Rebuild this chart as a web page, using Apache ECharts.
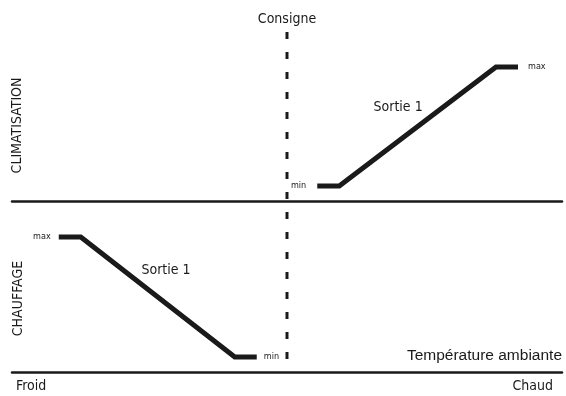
<!DOCTYPE html>
<html lang="fr">
  <head>
    <meta charset="UTF-8" />
    <title>Consigne - Sortie 1</title>
    <style>
      * {
        margin: 0;
        padding: 0;
      }
      #main {
        width: 566px;
        height: 396px;
        background: #ffffff;
      }
    </style>
  </head>
  <body>
    <div id="main"></div>
    <script src="https://cdn.jsdelivr.net/npm/echarts@6/dist/echarts.min.js"></script>
    <script>
      // temperature axis 0..100, output axis 0..10 (1 = min, 9 = max)
      var consigne = 50;
      var climX = [55.5, 59.5, 88, 92];
      var climY = [1, 1, 9, 9];
      var chaufX = [8.5, 12.5, 40.5, 44.5];
      var chaufY = [9, 9, 1, 1];
      // where the "Sortie 1" texts sit, in data units
      var climSortie = [70.2, 6.3];
      var chaufSortie = [28, 6.8];

      var ink = "#1a1a1a";
      var narrow = "'Liberation Sans Narrow', 'DejaVu Sans Condensed', sans-serif";

      function smallLabel(text, pos, dist) {
        return {
          show: true,
          position: pos,
          distance: dist,
          formatter: text,
          color: ink,
          fontSize: 9,
          fontFamily: narrow,
        };
      }

      // build series data, min / max labels at the ends
      var climData = climX.map(function (x, i) {
        var item = { value: [x, climY[i]] };
        if (i === 0) item.label = smallLabel("min", "left", 11);
        if (i === climX.length - 1) item.label = smallLabel("max", "right", 10);
        return item;
      });
      var chaufData = chaufX.map(function (x, i) {
        var item = { value: [x, chaufY[i]] };
        if (i === 0) item.label = smallLabel("max", "left", 8);
        if (i === chaufX.length - 1) item.label = smallLabel("min", "right", 7);
        return item;
      });

      function sortieMark(coord) {
        return {
          symbol: "rect",
          symbolSize: 1,
          itemStyle: { color: "rgba(0,0,0,0)" },
          label: {
            show: true,
            position: "inside",
            formatter: "Sortie 1",
            color: ink,
            fontSize: 14,
            fontFamily: narrow,
          },
          data: [{ coord: coord }],
        };
      }

      function baseAxis(gridIndex, showLine) {
        return {
          type: "value",
          gridIndex: gridIndex,
          min: 0,
          max: 100,
          axisLine: {
            show: showLine,
            onZero: false,
            lineStyle: { color: ink, width: 2.5 },
          },
          axisTick: { show: false },
          axisLabel: { show: false },
          splitLine: { show: false },
        };
      }

      function outAxis(gridIndex, max) {
        return {
          type: "value",
          gridIndex: gridIndex,
          min: 0,
          max: max,
          axisLine: { show: false },
          axisTick: { show: false },
          axisLabel: { show: false },
          splitLine: { show: false },
        };
      }

      function curve(index, data, coord) {
        return {
          type: "line",
          xAxisIndex: index,
          yAxisIndex: index,
          data: data,
          showSymbol: true,
          symbol: "circle",
          symbolSize: 0,
          itemStyle: { color: ink },
          label: { show: false },
          lineStyle: { color: ink, width: 5, cap: "butt", join: "miter" },
          markPoint: sortieMark(coord),
        };
      }

      var myChart = echarts.init(document.getElementById("main"));

      var option = {
        animation: false,
        backgroundColor: "#ffffff",
        grid: [
          // climatisation
          { left: 12, right: 4, top: 52, bottom: 195 },
          // chauffage
          { left: 12, right: 4, top: 222, bottom: 24 },
          // consigne dashed line
          { left: 12, right: 4, top: 32, bottom: 37 },
        ],
        xAxis: [baseAxis(0, true), baseAxis(1, true), baseAxis(2, false)],
        yAxis: [outAxis(0, 10), outAxis(1, 10), outAxis(2, 1)],
        series: [
          curve(0, climData, climSortie),
          curve(1, chaufData, chaufSortie),
          {
            type: "line",
            xAxisIndex: 2,
            yAxisIndex: 2,
            data: [
              { value: [consigne, 0] },
              {
                value: [consigne, 1],
                label: {
                  show: true,
                  position: "top",
                  distance: 6,
                  formatter: "Consigne",
                  color: ink,
                  fontSize: 14,
                  fontFamily: narrow,
                },
              },
            ],
            showSymbol: true,
            symbol: "circle",
            symbolSize: 0,
            itemStyle: { color: ink },
            label: { show: false },
            lineStyle: { color: ink, width: 3, type: [7, 13] },
          },
        ],
        graphic: [
          {
            type: "text",
            x: 17.5,
            y: 125.5,
            rotation: Math.PI / 2,
            style: {
              text: "CLIMATISATION",
              fill: ink,
              font: "14px " + narrow,
              align: "center",
              verticalAlign: "middle",
            },
          },
          {
            type: "text",
            x: 18,
            y: 298.5,
            rotation: Math.PI / 2,
            style: {
              text: "CHAUFFAGE",
              fill: ink,
              font: "14px " + narrow,
              align: "center",
              verticalAlign: "middle",
            },
          },
          {
            type: "text",
            x: 562,
            y: 356,
            style: {
              text: "Température ambiante",
              fill: ink,
              font: "15.5px 'Liberation Sans', Arial, sans-serif",
              align: "right",
              verticalAlign: "middle",
            },
          },
          {
            type: "text",
            x: 16,
            y: 386.5,
            style: {
              text: "Froid",
              fill: ink,
              font: "14px " + narrow,
              align: "left",
              verticalAlign: "middle",
            },
          },
          {
            type: "text",
            x: 553,
            y: 386.5,
            style: {
              text: "Chaud",
              fill: ink,
              font: "14px " + narrow,
              align: "right",
              verticalAlign: "middle",
            },
          },
        ],
      };

      myChart.setOption(option);
    </script>
  </body>
</html>
